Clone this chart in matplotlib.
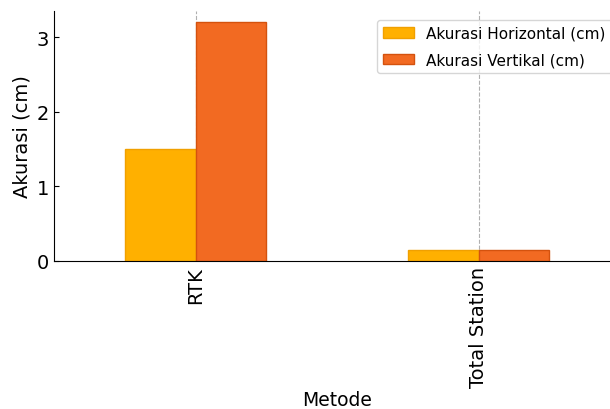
import numpy as np
import matplotlib.pyplot as plt

# data
metode = ['RTK', 'Total Station']
akurasi_horizontal = [1.5, 0.15]
akurasi_vertikal = [3.2, 0.15]

fig = plt.figure(figsize=(6.1, 4.1), dpi=100)
ax = fig.add_axes([0.0885, 0.361, 0.928, 0.61])

x = np.arange(len(metode))
w = 0.25
ax.bar(x - w / 2, akurasi_horizontal, width=w, color='#FFB000', edgecolor='#F0A000',
       linewidth=1, label='Akurasi Horizontal (cm)', zorder=2)
ax.bar(x + w / 2, akurasi_vertikal, width=w, color='#F26A22', edgecolor='#D4520E',
       linewidth=1, label='Akurasi Vertikal (cm)', zorder=2)

ax.set_xlim(-0.5, 1.5)
ax.set_ylim(0, 3.35)
ax.set_xticks(x)
ax.set_xticklabels(metode, rotation=90, fontsize=14)
ax.set_yticks([0, 1, 2, 3])
ax.tick_params(axis='y', labelsize=14, direction='in')
ax.tick_params(axis='x', direction='in')
ax.set_xlabel('Metode', fontsize=13.5, labelpad=2)
ax.set_ylabel('Akurasi (cm)', fontsize=14)

ax.grid(axis='x', color='#b0b0b0', linestyle='--', linewidth=0.8, zorder=1)
ax.spines['top'].set_visible(False)
ax.spines['right'].set_visible(False)

ax.legend(loc='upper right', bbox_to_anchor=(0.985, 0.965), fontsize=11,
          handlelength=2.0, borderaxespad=0, labelspacing=0.75)

fig.savefig('out.png', dpi=100)
